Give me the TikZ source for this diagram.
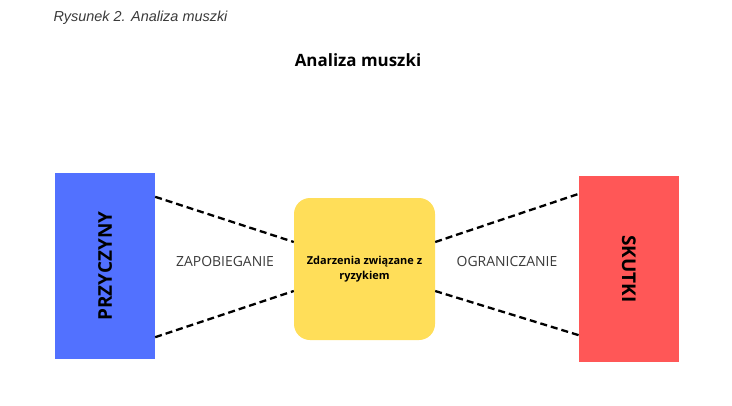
\documentclass[tikz,border=0pt]{standalone}
\usepackage{fontspec}
\setmainfont{Open Sans}
\newfontfamily\captionfont{Liberation Sans}
\usepackage{tikz}
\usetikzlibrary{calc}

\definecolor{causeblue}{HTML}{5271FF}
\definecolor{effectred}{HTML}{FF5757}
\definecolor{eventyellow}{HTML}{FFDE59}
\definecolor{labelgrey}{HTML}{3A3A3A}

\begin{document}
\begin{tikzpicture}[x=1bp, y=1bp,
    box/.style={minimum width=100bp, minimum height=186bp, inner sep=0pt},
    boxtext/.style={font=\fontsize{19}{22}\selectfont\bfseries},
    link/.style={line width=2.3bp, dash pattern=on 7bp off 4bp},
    side/.style={text=labelgrey, font=\fontsize{14}{16}\selectfont}]
                % Frame
                \useasboundingbox (0,0) rectangle (732,405);
                
                % Titles
                \node[anchor=west, font=\captionfont\itshape\fontsize{14.5}{17}\selectfont, text=labelgrey] (caption) at (50,387) {Rysunek 2. Analiza muszki};
                \node[font=\fontsize{17}{20}\selectfont\bfseries] (title) at (358,345) {Analiza muszki};
                
                % Boxes
                \node[box, fill=causeblue] (cause) at (105,139) {};
                \node[box, fill=effectred] (effect) at (629,136) {};
                \node[fill=eventyellow, rounded corners=16bp, minimum width=141bp, minimum height=142bp,
                      align=center, inner sep=0pt,
                      font=\fontsize{11}{15}\selectfont\bfseries] (event) at (364.5,136) {Zdarzenia związane z\\ryzykiem};
                
                % Box labels
                \node[boxtext, rotate=90] (causetext) at (cause) {PRZYCZYNY};
                \node[boxtext, rotate=-90] (effecttext) at (effect) {SKUTKI};
                
                % Links
                \draw[link] ([yshift=-24bp]cause.north east) -- ([yshift=27bp]event.west);
                \draw[link] ([yshift=22bp]cause.south east) -- ([yshift=-22bp]event.west);
                \draw[link] ([yshift=27bp]event.east) -- ([yshift=-18bp]effect.north west);
                \draw[link] ([yshift=-22bp]event.east) -- ([yshift=27bp]effect.south west);
                
                % Link labels
                \node[side] (prevent) at (225,143) {ZAPOBIEGANIE};
                \node[side] (limit) at (507,143) {OGRANICZANIE};
\end{tikzpicture}
\end{document}
